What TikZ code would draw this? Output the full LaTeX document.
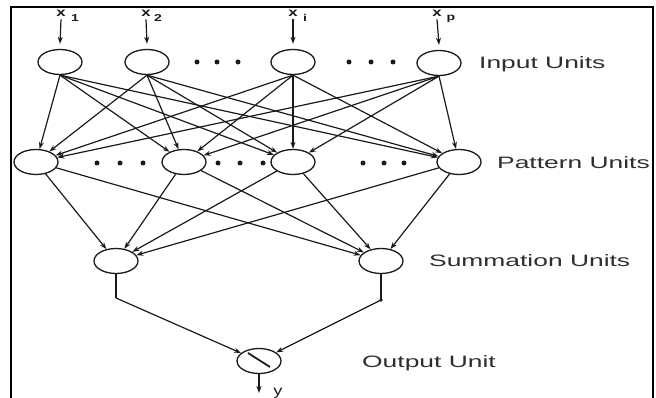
\documentclass[tikz,border=0pt]{standalone}
\usepackage{fontspec}
\setmainfont{Liberation Sans}
\usetikzlibrary{shapes.geometric,arrows.meta,calc}
\definecolor{ink}{HTML}{1A1A1A}
\definecolor{txt}{HTML}{2E2E2E}
\tikzset{
  unit/.style={ellipse, draw=ink, line width=1.3pt, minimum width=44pt, minimum height=25pt, inner sep=0pt, fill=white},
  conn/.style={draw=ink, line width=1.2pt, -{Stealth[length=7pt,width=5pt]}},
  plain/.style={draw=ink, line width=1.2pt},
  lab/.style={anchor=base west, text=txt, inner sep=0pt, font=\fontsize{16.5}{18}\selectfont},
  xlab/.style={text=ink, inner sep=0pt, font=\fontsize{12}{13}\selectfont\bfseries},
  sub/.style={text=ink, inner sep=0pt, font=\fontsize{10}{11}\selectfont\bfseries},
  dotd/.style={fill=ink, draw=none},
  frame/.style={draw=black, line width=2.2pt}
}
\begin{document}
\begin{tikzpicture}[x=1pt,y=-1pt]
\useasboundingbox (0,0) rectangle (656,398);
% frame
\draw[frame] (11,410) -- (11,7) -- (653,7) -- (653,410);
% input units
\node[unit] (i1) at (60,62) {};
\node[unit] (i2) at (147,62) {};
\node[unit] (ii) at (293,62) {};
\node[unit] (ip) at (439,63) {};
% pattern units
\node[unit] (p1) at (36,162) {};
\node[unit] (p2) at (184,162) {};
\node[unit] (p3) at (293,162) {};
\node[unit] (p4) at (459,162) {};
% summation units
\node[unit] (s1) at (116,261) {};
\node[unit] (s2) at (381,261) {};
% output unit
\node[unit] (o) at (259,361) {};
\draw[ink, line width=1.8pt] (248,353) -- (270,367);
% dots
\foreach \x in {197,217,238,349,371,393} \fill[dotd] (\x,62) circle (2.5);
\foreach \x in {97,120,143,218,240,263,363,384,404} \fill[dotd] (\x,163) circle (2.5);
% input labels
\node[xlab] (x1) at (61,13) {\scalebox{1.4}[1]{x}};
\node[sub] at (75,18) {\scalebox{1.4}[1]{1}};
\node[xlab] (x2) at (146,13) {\scalebox{1.4}[1]{x}};
\node[sub] at (158,18) {\scalebox{1.4}[1]{2}};
\node[xlab] (xi) at (293,13) {\scalebox{1.4}[1]{x}};
\node[sub] at (305,18) {\scalebox{1.4}[1]{i}};
\node[xlab] (xp) at (437,13) {\scalebox{1.4}[1]{x}};
\node[sub] at (451,19) {\scalebox{1.4}[1]{p}};
\foreach \a/\b in {x1/i1,x2/i2,xi/ii,xp/ip}
  \draw[conn] ($(\a.south)+(0,3)$) -- ($(\b.north)+(0,-5)$);
% input -> pattern
\foreach \a in {i1,i2,ii,ip}
  \foreach \b in {p1,p2,p3,p4}
    \draw[conn] (\a.south) -- (\b);
% pattern -> summation
\foreach \a in {p1,p2,p3,p4}
  \foreach \b in {s1,s2}
    \draw[conn] (\a) -- (\b);
% summation -> output
\coordinate (c1) at (116,298);
\coordinate (c2) at (381,300);
\draw[plain] (s1.south) -- (c1);
\draw[conn] (c1) -- (o);
\draw[plain] (s2.south) -- (c2);
\draw[conn] (c2) -- (o);
\fill[dotd] (c2) circle (1.8);
% output
\coordinate (yend) at (259,393);
\draw[conn] (o.south) -- (yend);
\node[xlab, font=\fontsize{14}{15}\selectfont, anchor=base] (ylab) at (278,395) {\scalebox{1.3}[1]{y}};
% unit labels
\node[lab] (l1) at (479,69) {\scalebox{1.6}[1]{Input Units}};
\node[lab] (l2) at (497,169) {\scalebox{1.6}[1]{Pattern Units}};
\node[lab] (l3) at (429,266) {\scalebox{1.6}[1]{Summation Units}};
\node[lab] (l4) at (362,367) {\scalebox{1.6}[1]{Output Unit}};
\end{tikzpicture}
\end{document}
